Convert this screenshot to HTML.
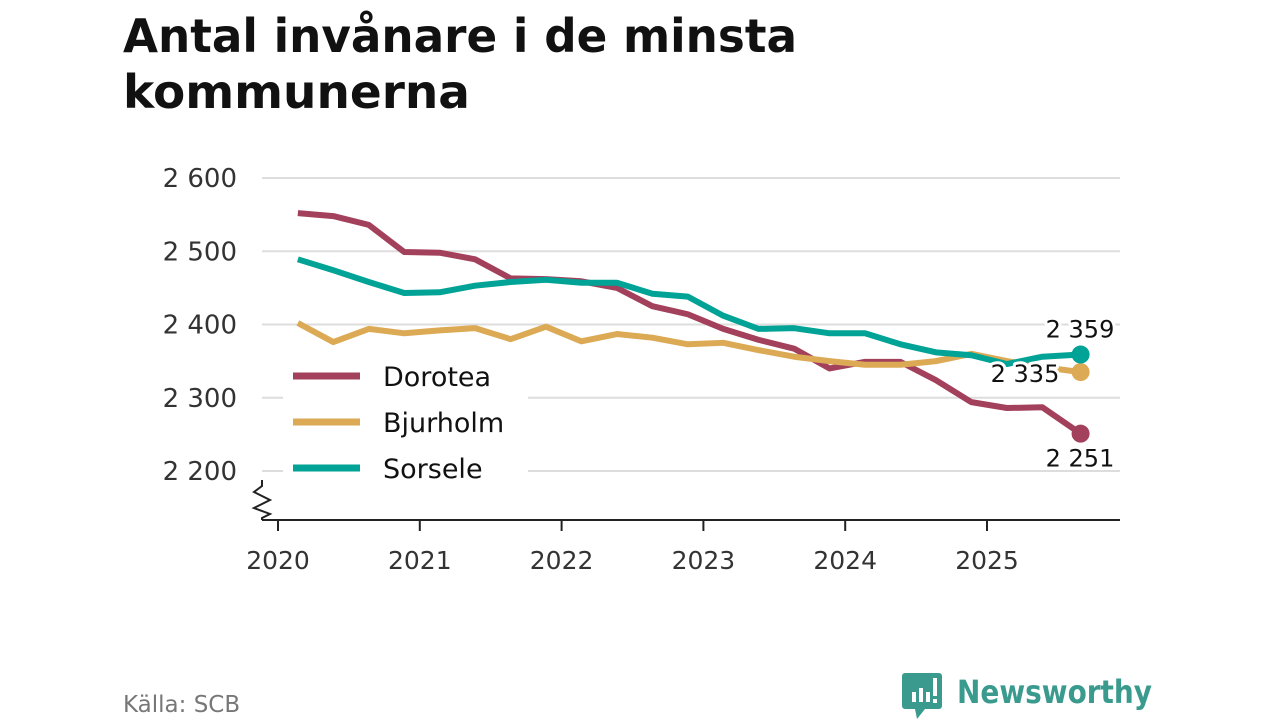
<!DOCTYPE html>
<html><head><meta charset="utf-8"><style>
body{margin:0;background:#fff;width:1280px;height:720px;overflow:hidden;font-family:"DejaVu Sans","Liberation Sans",sans-serif}
</style></head><body>
<svg width="1280" height="720" id="c">
<text x="123" y="52" font-size="46" font-weight="bold" fill="#111" textLength="674" lengthAdjust="spacingAndGlyphs">Antal invånare i de minsta</text>
<text x="123" y="108" font-size="46" font-weight="bold" fill="#111" textLength="347" lengthAdjust="spacingAndGlyphs">kommunerna</text>
<g id="grid"></g><g id="axis"></g><g id="lines"></g><g id="legend"></g><g id="labels"></g>
<text x="123" y="712" font-size="23" fill="#777">Källa: SCB</text>
<g>
<path d="M905,673 h34 a3,3 0 0 1 3,3 v30 a3,3 0 0 1 -3,3 h-14 l-8,10 l-2,-10 h-10 a3,3 0 0 1 -3,-3 v-30 a3,3 0 0 1 3,-3z" fill="#3a9a8e"/>
<rect x="912" y="692" width="4" height="10" fill="#fff"/><rect x="919" y="688" width="4" height="14" fill="#fff"/><rect x="926" y="692" width="4" height="10" fill="#fff"/><rect x="933" y="678" width="4" height="18" fill="#fff"/><rect x="933" y="699" width="4" height="4" fill="#fff"/>
<text x="957" y="703" font-size="32" font-weight="bold" fill="#3a9a8e" textLength="195" lengthAdjust="spacingAndGlyphs">Newsworthy</text>
</g>
</svg>
<script>
const yTicks=[2200,2300,2400,2500,2600];
const yTickLabels=["2 200","2 300","2 400","2 500","2 600"];
const xYears=[2020,2021,2022,2023,2024,2025];
const dates=[2020.14,2020.39,2020.64,2020.89,2021.14,2021.39,2021.64,2021.89,2022.14,2022.39,2022.64,2022.89,2023.14,2023.39,2023.64,2023.89,2024.14,2024.39,2024.64,2024.89,2025.14,2025.39,2025.66];
const dorotea=[2552,2548,2536,2499,2498,2489,2463,2462,2459,2450,2425,2414,2394,2379,2367,2340,2349,2349,2324,2294,2286,2287,2251];
const bjurholm=[2402,2376,2394,2388,2392,2395,2380,2397,2377,2387,2382,2373,2375,2365,2356,2350,2345,2345,2350,2360,2350,2342,2335];
const sorsele=[2489,2474,2458,2443,2444,2453,2458,2461,2457,2457,2442,2438,2412,2394,2395,2388,2388,2373,2362,2358,2346,2356,2359];
const names=["Dorotea","Bjurholm","Sorsele"];
const endLabels=["2 251","2 335","2 359"];
const colors=["#a3405c","#dcaa55","#00a396"];
const NS="http://www.w3.org/2000/svg";
const X=d=>278+(d-2020)*141.8;
const Y=v=>471-(v-2200)*0.7325;
function mk(t,a,p){const e=document.createElementNS(NS,t);for(const k in a)e.setAttribute(k,a[k]);p.appendChild(e);return e;}
const G=document.getElementById('grid'),A=document.getElementById('axis'),L=document.getElementById('lines'),LG=document.getElementById('legend'),LB=document.getElementById('labels');
yTicks.forEach((v,i)=>{
 const l=mk('line',{x1:262,x2:1120,y1:Y(v),y2:Y(v),stroke:'#ddd','stroke-width':2},G);
 
 
 const t=mk('text',{x:237,y:Y(v)+9,'font-size':26,fill:'#333','text-anchor':'end'},A);
 t.textContent=yTickLabels[i];
 
 
});
mk('line',{x1:262,x2:1120,y1:520,y2:520,stroke:'#222','stroke-width':2},A);
mk('path',{d:'M262,480 L262,486 L254,492 L270,500 L254,508 L270,514 L262,518 L262,520',fill:'none',stroke:'#222','stroke-width':2},A);
xYears.forEach(y=>{
 mk('line',{x1:X(y),x2:X(y),y1:520,y2:531,stroke:'#222','stroke-width':2},A);
 const t=mk('text',{x:X(y),y:569,'font-size':25,fill:'#333','text-anchor':'middle'},A);
 t.textContent=y;
 
 
});
[dorotea,bjurholm,sorsele].forEach((s,k)=>{
 const p=mk('polyline',{points:s.map((v,i)=>X(dates[i])+','+Y(v)).join(' '),fill:'none',stroke:colors[k],'stroke-width':6,'stroke-linejoin':'round'},L);
 
 
 const n=s.length-1;
 const c=mk('circle',{cx:X(dates[n]),cy:Y(s[n]),r:9,fill:colors[k]},L);
 
 
});
mk('rect',{x:283,y:360,width:245,height:115,fill:'#fff'},LG);
names.forEach((n,k)=>{
 const y=376+k*46;
 mk('line',{x1:293,x2:360,y1:y,y2:y,stroke:colors[k],'stroke-width':7},LG);
 const t=mk('text',{x:383,y:y+10,'font-size':27,fill:'#111'},LG);
 t.textContent=n;
 
 
});
const lp=[[1080,Y(dorotea[22])+24],[1025,Y(bjurholm[22])+1],[1080,Y(sorsele[22])-26]];
[0,1,2].forEach(k=>{
 const t=mk('text',{x:lp[k][0],y:lp[k][1]+9,'font-size':24,fill:'#111','text-anchor':'middle',stroke:'#fff','stroke-width':6,'paint-order':'stroke','stroke-linejoin':'round'},LB);
 t.textContent=endLabels[k];
 
 
});
</script>
</body></html>
